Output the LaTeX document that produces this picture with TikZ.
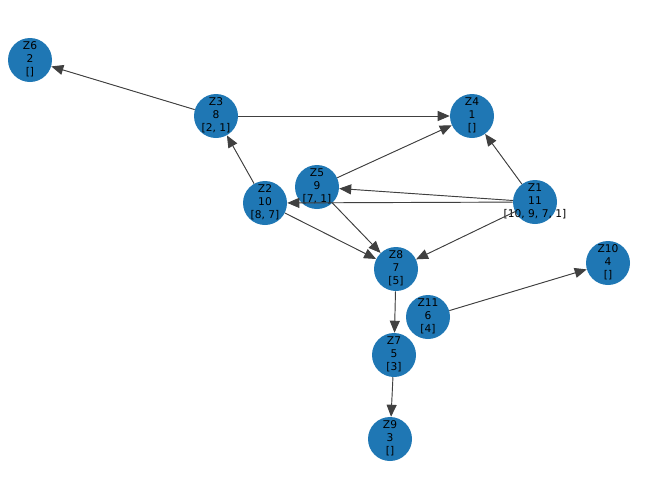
\documentclass[tikz,border=0pt]{standalone}
\usepackage{fontspec}
\setmainfont{DejaVu Sans}
\usetikzlibrary{arrows.meta}
\definecolor{nodeblue}{HTML}{1F77B4}
\definecolor{edgegray}{HTML}{404040}
% three-line node text, allowed to stick out of the circle
\newcommand{\ztext}[3]{\makebox[0pt]{\begin{tabular}{@{}c@{}}#1\\#2\\{#3}\end{tabular}}}
\tikzset{
  znode/.style={circle, fill=nodeblue, inner sep=0pt, minimum size=33pt, font=\fontsize{8}{9.4}\selectfont},
  zedge/.style={-{Triangle[length=9pt, width=7.5pt]}, draw=edgegray, fill=edgegray, line width=0.7pt}
}
\begin{document}
\begin{tikzpicture}[x=0.75pt, y=-0.75pt]
            \useasboundingbox (0,0) rectangle (645,483);
            % Nodes
            \node[znode] (z6) at (30, 60) {\ztext{Z6}{2}{[]}};
            \node[znode] (z3) at (216, 116) {\ztext{Z3}{8}{[2, 1]}};
            \node[znode] (z4) at (472, 116) {\ztext{Z4}{1}{[]}};
            \node[znode] (z5) at (317, 187) {\ztext{Z5}{9}{[7, 1]}};
            \node[znode] (z2) at (265, 203) {\ztext{Z2}{10}{[8, 7]}};
            \node[znode] (z1) at (535, 202) {\ztext{Z1}{11}{[10, 9, 7, 1]}};
            \node[znode] (z10) at (608, 263) {\ztext{Z10}{4}{[]}};
            \node[znode] (z8) at (396, 269) {\ztext{Z8}{7}{[5]}};
            \node[znode] (z11) at (428, 317) {\ztext{Z11}{6}{[4]}};
            \node[znode] (z7) at (394, 355) {\ztext{Z7}{5}{[3]}};
            \node[znode] (z9) at (390, 439) {\ztext{Z9}{3}{[]}};
            
            % Edges
            \draw[zedge] (z3) -- (z6);
            \draw[zedge] (z3) -- (z4);
            \draw[zedge] (z2) -- (z3);
            \draw[zedge] (z5) -- (z4);
            \draw[zedge] (z1) -- (z4);
            \draw[zedge] (z1) -- (z5);
            \draw[zedge] (z1) -- (z2);
            \draw[zedge] (z1) -- (z8);
            \draw[zedge] (z5) -- (z8);
            \draw[zedge] (z2) -- (z8);
            \draw[zedge] (z11) -- (z10);
            \draw[zedge] (z8) -- (z7);
            \draw[zedge] (z7) -- (z9);
        \end{tikzpicture}
\end{document}
